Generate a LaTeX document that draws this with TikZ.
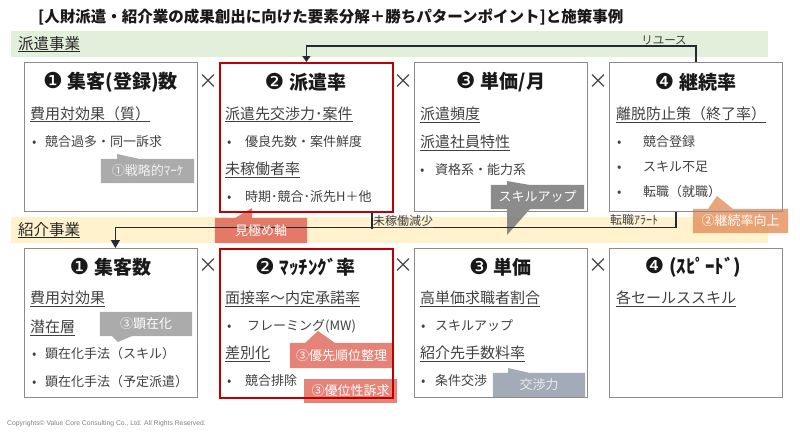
\documentclass[tikz,border=0pt]{standalone}
\usepackage{fontspec}
\setmainfont{Noto Sans CJK JP}
\newfontfamily\djv{DejaVu Sans}
\newfontfamily\lib{Liberation Sans}
\usetikzlibrary{arrows.meta}
\pgfdeclarelayer{bands}
\pgfdeclarelayer{callouts}
\pgfsetlayers{bands,callouts,main}
\definecolor{bandgreen}{HTML}{E2EFDA}
\definecolor{bandyellow}{HTML}{FFF2CC}
\definecolor{boxgray}{HTML}{8C8C8C}
\definecolor{boxred}{HTML}{C00000}
\definecolor{txt}{HTML}{404040}
\definecolor{conn}{HTML}{222A35}
\definecolor{cgray}{HTML}{A6A6A6}
\definecolor{cdark}{HTML}{7F7F7F}
\definecolor{cred}{HTML}{E06456}
\definecolor{corange}{HTML}{E59462}
\definecolor{cblue}{HTML}{9AA2B0}
\newcommand\cn[1]{{\djv\mdseries\fontsize{22}{22}\selectfont\raisebox{-0.5pt}{#1}}\hspace{5pt}}
\begin{document}
\begin{tikzpicture}[x=1pt,y=-1pt,
  box/.style={draw=boxgray, line width=0.8pt, minimum width=173pt, minimum height=149pt, inner sep=0, anchor=north west},
  redbox/.style={box, draw=boxred, line width=1.8pt},
  ttl/.style={font=\bfseries\fontsize{19}{20}\selectfont, text=black!90, inner sep=0},
  hd/.style={font=\fontsize{15}{15}\selectfont, text=txt, inner sep=0, anchor=base west},
  bl/.style={font=\fontsize{13}{13}\selectfont, text=txt, inner sep=0, anchor=base west},
  uline/.style={draw=txt, line width=0.7pt},
  times/.style={font=\fontsize{20}{20}\selectfont, text=txt, inner sep=0},
  ctext/.style={font=\fontsize{13}{13}\selectfont, text=white, inner sep=0},
  cn/.style={draw=conn, line width=1.3pt},
  lbl/.style={font=\fontsize{12}{12}\selectfont, text=txt, inner sep=0, anchor=west}
]
\useasboundingbox (0,0) rectangle (800,431);
\newcommand\hdl[4]{\node[hd] (#1) at (#2,#3) {#4};
  \draw[uline] ([yshift=-2.8pt]#1.base west) -- ([yshift=-2.8pt]#1.base east);}
\newcommand\bul[5]{\node[bl] (#1d) at (#2,#4) {•}; \node[bl] (#1) at (#3,#4) {#5};}

% bands
\begin{pgfonlayer}{bands}
\fill[bandgreen] (11,31) rectangle (768,57);
\fill[bandyellow] (11,217) rectangle (768,243);
\end{pgfonlayer}

% title
\node[font=\bfseries\fontsize{15.5}{16}\selectfont, text=black!90, anchor=west, inner sep=0] (title) at (38,17)
  {[人財派遣・紹介業の成果創出に向けた要素分解＋勝ちパターンポイント]と施策事例};

% band labels
\node[font=\fontsize{15.5}{16}\selectfont, text=black!85, anchor=base west, inner sep=0] (hakenlbl) at (18,49) {派遣事業};
\draw[draw=black!85, line width=0.7pt] ([yshift=-2.5pt]hakenlbl.base west) -- ([yshift=-2.5pt]hakenlbl.base east);
\node[font=\fontsize{15.5}{16}\selectfont, text=black!85, anchor=base west, inner sep=0] (shokailbl) at (18,235) {紹介事業};
\draw[draw=black!85, line width=0.7pt] ([yshift=-2.5pt]shokailbl.base west) -- ([yshift=-2.5pt]shokailbl.base east);

% top boxes
\node[box] (t1) at (24,62) {};
\node[redbox] (t2) at (219,62) {};
\node[box] (t3) at (414,62) {};
\node[box] (t4) at (609,62) {};
\node[ttl] (t1t) at (110.5,82) {\cn{❶}集客(登録)数};
\node[ttl] (t2t) at (305.5,82) {\cn{❷}派遣率};
\node[ttl] (t3t) at (500.5,82) {\cn{❸}単価/月};
\node[ttl] (t4t) at (695.5,82) {\cn{❹}継続率};
\node[times] (x1) at (208,82) {×};
\node[times] (x2) at (403,82) {×};
\node[times] (x3) at (598,82) {×};

\hdl{t1h1}{30}{119}{費用対効果（質）}
\bul{t1b1}{32}{45}{146.9}{競合過多・同一訴求}

\hdl{t2h1}{225}{119}{派遣先交渉力･案件}
\bul{t2b1}{227}{245}{146.9}{優良先数・案件鮮度}
\hdl{t2h2}{225}{174.7}{未稼働者率}
\bul{t2b2}{227}{245}{201.9}{時期･競合･派先H＋他}

\hdl{t3h1}{420}{119.7}{派遣頻度}
\hdl{t3h2}{420}{147.7}{派遣社員特性}
\bul{t3b1}{420}{435}{174.9}{資格系・能力系}

\hdl{t4h1}{616}{119.7}{離脱防止策（終了率）}
\bul{t4b1}{617}{643}{146.9}{競合登録}
\bul{t4b2}{617}{643}{171.9}{スキル不足}
\bul{t4b3}{617}{643}{196.9}{転職（就職）}

% bottom boxes
\node[box] (u1) at (24,248) {};
\node[redbox] (u2) at (219,248) {};
\node[box] (u3) at (414,248) {};
\node[box] (u4) at (609,248) {};
\node[ttl] (u1t) at (110.5,267) {\cn{❶}集客数};
\node[ttl] (u2t) at (305.5,267) {\cn{❷}ﾏｯﾁﾝｸﾞ率};
\node[ttl] (u3t) at (500.5,267) {\cn{❸}単価};
\node[ttl] (u4t) at (693,267) {\cn{❹}(ｽﾋﾟｰﾄﾞ)};
\node[times] (y1) at (208,266) {×};
\node[times] (y2) at (403,266) {×};
\node[times] (y3) at (598,266) {×};

\hdl{u1h1}{30}{303.7}{費用対効果}
\hdl{u1h2}{30}{332.7}{潜在層}
\bul{u1b1}{32}{45}{358.7}{顕在化手法（スキル）}
\bul{u1b2}{32}{45}{386.7}{顕在化手法（予定派遣）}

\hdl{u2h1}{225}{303.7}{面接率～内定承諾率}
\bul{u2b1}{227}{247}{330.9}{フレーミング(MW)}
\hdl{u2h2}{225}{358.7}{差別化}
\bul{u2b2}{227}{245}{385.9}{競合排除}

\hdl{u3h1}{420}{303.7}{高単価求職者割合}
\bul{u3b1}{421}{435}{330.4}{スキルアップ}
\hdl{u3h2}{420}{358.7}{紹介先手数料率}
\bul{u3b2}{421}{435}{385.9}{条件交渉}

\hdl{u4h1}{616}{303.7}{各セールススキル}

% connectors
\draw[cn, -{Triangle[width=8pt,length=6pt]}] (t4.north) -- ++(0,-16) coordinate (ru) -| (t2.north);
\node[font=\fontsize{11.5}{12}\selectfont, text=txt, anchor=south east, inner sep=1pt] (rulbl) at ([xshift=-8pt]ru) {リユース};
\draw[cn, -{Triangle[width=9pt,length=8pt]}] ([xshift=-20pt]t4.south) -- ++(0,16) coordinate (jn) -| ([xshift=4.5pt]u1.north);
\draw[cn] ([xshift=65.5pt]t2.south) -- ++(0,16);
\node[lbl] (milbl) at (373,220.5) {未稼働減少};
\draw[uline] ([yshift=-1pt]milbl.south west) -- ([yshift=-1pt]milbl.south east);
\node[lbl] (tenlbl) at (610,220) {転職ｱﾗｰﾄ};

% callouts
\node[ctext, text=white!95!black, minimum width=93pt, minimum height=24pt] (c1) at (147.5,171) {①戦略的ﾏｰｹ};
\node[ctext, minimum width=92pt, minimum height=25pt] (c2) at (261,230.5) {見極め軸};
\node[ctext, minimum width=93pt, minimum height=24pt] (c3) at (537.5,197) {スキルアップ};
\node[ctext, minimum width=95pt, minimum height=24pt] (c4) at (740.5,221) {②継続率向上};
\node[ctext, minimum width=92pt, minimum height=24pt] (c5) at (146,324) {③顕在化};
\node[ctext, minimum width=103pt, minimum height=25pt] (c6) at (341.5,355.5) {③優先順位整理};
\node[ctext, minimum width=93pt, minimum height=24pt] (c7) at (350.5,391) {③優位性訴求};
\node[ctext, text=white!92!black, minimum width=92pt, minimum height=24pt] (c8) at (539,385) {交渉力};
\begin{pgfonlayer}{callouts}
\fill[cgray, opacity=.95] (c1.north west) rectangle (c1.south east) (117,159) -- (117,154) -- (140,159) -- cycle;
\fill[cred, opacity=.85] (c2.north west) rectangle (c2.south east) (235,218) -- (252,208) -- (252,218) -- cycle;
\fill[cdark, opacity=.9] (c3.north west) rectangle (c3.south east) (507,185) -- (507,181) -- (530,185) -- cycle (507,209) -- (507,235) -- (530,209) -- cycle;
\fill[corange, opacity=.85] (c4.north west) rectangle (c4.south east) (708,209) -- (717,196) -- (733,209) -- cycle;
\fill[cgray, opacity=.95] (c5.north west) rectangle (c5.south east) (112,336) -- (118,342) -- (132,336) -- cycle;
\fill[cred, opacity=.8] (c6.north west) rectangle (c6.south east) (305,343) -- (318,331) -- (335,343) -- cycle;
\fill[cred, opacity=.8] (c7.north west) rectangle (c7.south east);
\fill[cblue, opacity=.9] (c8.north west) rectangle (c8.south east) (508,373) -- (508,368) -- (530,373) -- cycle;
\end{pgfonlayer}

% copyright
\node[font=\lib\fontsize{6.8}{7}\selectfont, text=black!50, anchor=west, inner sep=0] (copy) at (7,424)
  {Copyrights© Value Core Consulting Co., Ltd. All Rights Reserved.};
\end{tikzpicture}
\end{document}
